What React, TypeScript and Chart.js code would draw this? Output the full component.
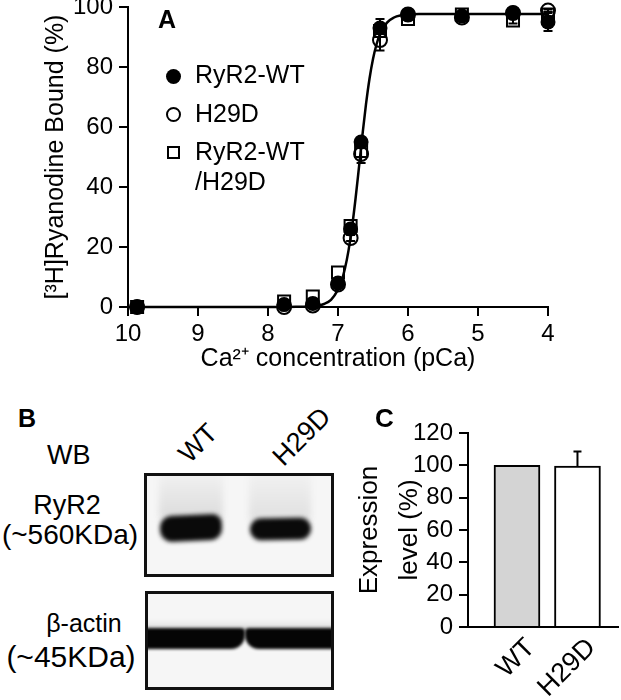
import React, { useEffect, useRef } from 'react';
import { Chart, registerables } from 'chart.js';

Chart.register(...registerables);

const FONT = '"Liberation Sans", Arial, Helvetica, sans-serif';
Chart.defaults.font.family = FONT;
Chart.defaults.color = '#000';

// ---------- Panel A data ----------
const pCa = [9.87, 7.77, 7.36, 7.0, 6.82, 6.67, 6.4, 6.0, 5.23, 4.5, 4.0];
const wtBound = [0, 0.8, 1.2, 8, 26, 55, 93, 97.5, 97, 98, 95];
const wtErr = [0, 0, 0, 0.5, 1, 1.5, 3, 0.5, 0.5, 0.5, 3];
const h29dBound = [0, 0, 0.5, 7.5, 23, 51, 89, 97.5, 96.5, 98, 98.8];
const h29dErr = [0, 0, 0, 0, 1, 3, 3.5, 0.5, 0.5, 0.5, 0.5];
const mixBound = [0, 1.8, 3.5, 11.5, 27, 52, 92, 96, 97.5, 95.5, 97.5];
const mixErr = [0, 0, 0, 0, 0, 0, 0, 0, 0, 1, 1];

// fitted curve
const fitPCa = [10, 8, 7.6, 7.4, 7.3, 7.2, 7.1, 7.0, 6.95, 6.9, 6.85, 6.8, 6.75, 6.7, 6.65, 6.6, 6.55, 6.5, 6.45, 6.4, 6.3, 6.2, 6.1, 6.0, 5.8, 5.5, 4];
const fitBound = [0, 0, 0.1, 0.2, 0.4, 1.0, 2.4, 5.8, 8.6, 12.9, 18.8, 26.5, 36, 46.7, 57.5, 67.6, 76.1, 82.7, 87.5, 91.0, 94.8, 96.5, 97.2, 97.5, 97.65, 97.7, 97.7];

const xTicksA = [10, 9, 8, 7, 6, 5, 4];
const yTicksA = [0, 20, 40, 60, 80, 100];

const legendLabels = ['RyR2-WT', 'H29D', 'RyR2-WT', '/H29D'];

// ---------- Panel C data ----------
const groups = ['WT', 'H29D'];
const expression = [100, 99.5];
const expressionErr = [0, 9];
const barColors = ['#d4d4d4', '#ffffff'];
const yTicksC = [0, 20, 40, 60, 80, 100, 120];

const errorBarPlugin = {
  id: 'errorBars',
  afterDatasetsDraw(chart: any) {
    const ctx = chart.ctx;
    chart.data.datasets.forEach((ds: any, i: number) => {
      if (!ds.errors) return;
      const meta = chart.getDatasetMeta(i);
      const yScale = chart.scales[meta.yAxisID];
      ctx.save();
      ctx.strokeStyle = '#000';
      ctx.lineWidth = ds.errorWidth || 2;
      meta.data.forEach((el: any, j: number) => {
        const err = ds.errors[j];
        if (!err) return;
        const raw = ds.data[j];
        const v = typeof raw === 'object' ? raw.y : raw;
        const x = el.x;
        const yT = yScale.getPixelForValue(v + err);
        const yB = ds.errorUpOnly ? yScale.getPixelForValue(v) : yScale.getPixelForValue(v - err);
        const cap = ds.errorCap || 4;
        ctx.beginPath();
        ctx.moveTo(x, yT);
        ctx.lineTo(x, yB);
        ctx.moveTo(x - cap, yT);
        ctx.lineTo(x + cap, yT);
        if (!ds.errorUpOnly) {
          ctx.moveTo(x - cap, yB);
          ctx.lineTo(x + cap, yB);
        }
        ctx.stroke();
      });
      ctx.restore();
    });
  },
};

function Txt({ x, base, size, bold = false, align = 'left', children }: any) {
  const top = base - 0.8465 * size;
  const style: any = {
    position: 'absolute',
    top,
    fontSize: size,
    lineHeight: `${size}px`,
    fontFamily: FONT,
    fontWeight: bold ? 700 : 400,
    whiteSpace: 'nowrap',
    color: '#000',
  };
  if (align === 'center') {
    style.left = x - 150;
    style.width = 300;
    style.textAlign = 'center';
  } else {
    style.left = x;
  }
  return <div style={style}>{children}</div>;
}

function RotTxt({ x, base, size, children }: any) {
  const asc = 0.8465 * size;
  return (
    <div
      style={{
        position: 'absolute',
        left: x,
        top: base - asc,
        fontSize: size,
        lineHeight: `${size}px`,
        fontFamily: FONT,
        whiteSpace: 'nowrap',
        color: '#000',
        transformOrigin: `0px ${asc}px`,
        transform: 'rotate(-45deg)',
      }}
    >
      {children}
    </div>
  );
}

const abs = (o: any) => ({ position: 'absolute', ...o });

export default function App() {
  const refA = useRef<HTMLCanvasElement>(null);
  const refC = useRef<HTMLCanvasElement>(null);

  useEffect(() => {
    const axisGrid = { drawOnChartArea: false, drawTicks: true, tickLength: 9, color: '#000', lineWidth: 2 };
    const axisBorder = { display: true, color: '#000', width: 2 };
    const chartA = new Chart(refA.current as HTMLCanvasElement, {
      type: 'scatter',
      data: {
        datasets: [
          {
            label: legendLabels[0],
            data: pCa.map((x, i) => ({ x, y: wtBound[i] })),
            errors: wtErr,
            errorCap: 4.5,
            pointStyle: 'circle',
            pointRadius: 7.5,
            pointBackgroundColor: '#000',
            pointBorderColor: '#000',
            pointBorderWidth: 0,
            order: 1,
            clip: false,
          } as any,
          {
            label: legendLabels[1],
            data: pCa.map((x, i) => ({ x, y: h29dBound[i] })),
            errors: h29dErr,
            errorCap: 4.5,
            pointStyle: 'circle',
            pointRadius: 7,
            pointBackgroundColor: 'rgba(0,0,0,0)',
            pointBorderColor: '#000',
            pointBorderWidth: 2,
            order: 2,
            clip: false,
          } as any,
          {
            label: legendLabels[2] + legendLabels[3],
            data: pCa.map((x, i) => ({ x, y: mixBound[i] })),
            errors: mixErr,
            errorCap: 4.5,
            pointStyle: 'rect',
            pointRadius: 8.5,
            pointBackgroundColor: 'rgba(0,0,0,0)',
            pointBorderColor: '#000',
            pointBorderWidth: 2,
            order: 3,
            clip: false,
          } as any,
          {
            type: 'line',
            label: 'fit',
            data: fitPCa.map((x, i) => ({ x, y: fitBound[i] })),
            borderColor: '#000',
            borderWidth: 2.5,
            pointRadius: 0,
            cubicInterpolationMode: 'monotone',
            fill: false,
            order: 4,
            clip: false,
          } as any,
        ],
      },
      options: {
        animation: false,
        responsive: false,
        devicePixelRatio: 1,
        layout: { padding: { top: 27, right: 73, bottom: 0, left: 0 } },
        plugins: { legend: { display: false }, tooltip: { enabled: false } },
        scales: {
          x: {
            type: 'linear',
            min: 4,
            max: 10,
            reverse: true,
            afterBuildTicks: (s: any) => {
              s.ticks = xTicksA.map((v) => ({ value: v }));
            },
            ticks: { font: { size: 24 }, color: '#000', padding: 4, callback: (v: any) => String(v) },
            grid: axisGrid,
            border: axisBorder,
            title: {
              display: true,
              text: 'Ca²⁺ concentration (pCa)',
              font: { size: 25 },
              color: '#000',
              padding: { top: 0, bottom: 5.5 },
            },
            afterFit: (s: any) => {
              s.height = 73;
            },
          },
          y: {
            min: 0,
            max: 100,
            afterBuildTicks: (s: any) => {
              s.ticks = yTicksA.map((v) => ({ value: v }));
            },
            ticks: { font: { size: 24 }, color: '#000', padding: 6 },
            grid: axisGrid,
            border: axisBorder,
            title: {
              display: true,
              text: '[³H]Ryanodine Bound (%)',
              font: { size: 25 },
              color: '#000',
              padding: { top: 41.5, bottom: 0 },
            },
            afterFit: (s: any) => {
              s.width = 128;
            },
          },
        },
      } as any,
      plugins: [errorBarPlugin],
    });

    const chartC = new Chart(refC.current as HTMLCanvasElement, {
      type: 'bar',
      data: {
        datasets: [
          {
            label: 'Expression level',
            data: groups.map((g, i) => ({ x: i + 1, y: expression[i] })),
            backgroundColor: barColors,
            borderColor: '#000',
            borderWidth: 2,
            barThickness: 46,
            errors: expressionErr,
            errorUpOnly: true,
            errorCap: 4,
            clip: false,
          } as any,
        ],
      },
      options: {
        animation: false,
        responsive: false,
        devicePixelRatio: 1,
        layout: { padding: { top: 33, right: 3, bottom: 0, left: 0 } },
        plugins: { legend: { display: false }, tooltip: { enabled: false } },
        scales: {
          x: {
            type: 'linear',
            min: 0.19,
            max: 2.67,
            offset: false,
            grid: { display: false, drawTicks: false },
            border: axisBorder,
            afterBuildTicks: (s: any) => {
              s.ticks = groups.map((g, i) => ({ value: i + 1 }));
            },
            ticks: {
              autoSkip: false,
              minRotation: 45,
              maxRotation: 45,
              labelOffset: 14,
              padding: 5,
              font: { size: 27 },
              color: '#000',
              callback: (v: any) => groups[Math.round(v) - 1] ?? '',
            },
            afterFit: (s: any) => {
              s.height = 73;
            },
          },
          y: {
            min: 0,
            max: 120,
            afterBuildTicks: (s: any) => {
              s.ticks = yTicksC.map((v) => ({ value: v }));
            },
            ticks: { font: { size: 24 }, color: '#000', padding: 6 },
            grid: axisGrid,
            border: axisBorder,
            title: {
              display: true,
              text: ['Expression', 'level (%)'],
              font: { size: 26, lineHeight: 40 / 26 },
              color: '#000',
              padding: { top: 10, bottom: 0 },
            },
            afterFit: (s: any) => {
              s.width = 128;
            },
          },
        },
      } as any,
      plugins: [errorBarPlugin],
    });

    return () => {
      chartA.destroy();
      chartC.destroy();
    };
  }, []);

  const blur = (px: number) => `blur(${px}px)`;

  return (
    <div style={{ position: 'absolute', left: 0, top: 0, width: 621, height: 700, overflow: 'hidden', background: '#fff' }}>
      {/* Panel A */}
      <canvas ref={refA} width={621} height={400} style={abs({ left: 0, top: -20, width: 621, height: 400 })} />
      <Txt x={158} base={28} size={25} bold>A</Txt>
      <div style={abs({ left: 165.5, top: 68.5, width: 15, height: 15, borderRadius: '50%', background: '#000' })} />
      <div style={abs({ left: 165.5, top: 106.5, width: 15, height: 15, borderRadius: '50%', border: '2px solid #000', boxSizing: 'border-box' })} />
      <div style={abs({ left: 166.5, top: 145.5, width: 13, height: 13, border: '2px solid #000', boxSizing: 'border-box' })} />
      <Txt x={195} base={83} size={25}>{legendLabels[0]}</Txt>
      <Txt x={195} base={122} size={25}>{legendLabels[1]}</Txt>
      <Txt x={195} base={160} size={25}>{legendLabels[2]}</Txt>
      <Txt x={195} base={190} size={25}>{legendLabels[3]}</Txt>

      {/* Panel B */}
      <Txt x={18} base={427} size={25} bold>B</Txt>
      <Txt x={47} base={465} size={27}>WB</Txt>
      <RotTxt x={190} base={465} size={27}>WT</RotTxt>
      <RotTxt x={284} base={468} size={27}>H29D</RotTxt>
      <Txt x={67} base={515} size={27} align="center">RyR2</Txt>
      <Txt x={70} base={545} size={28} align="center">(~560KDa)</Txt>
      <Txt x={84} base={632} size={25} align="center">β-actin</Txt>
      <Txt x={71} base={667} size={30} align="center">(~45KDa)</Txt>

      <div style={abs({ left: 144, top: 473, width: 190, height: 104, border: '3px solid #111', boxSizing: 'border-box', background: '#f6f6f6', overflow: 'hidden' })}>
        <div style={abs({ left: 12, top: -6, width: 64, height: 48, background: 'linear-gradient(to bottom, #f3f3f3, #dcdcdc)', filter: blur(3) })} />
        <div style={abs({ left: 102, top: -6, width: 62, height: 50, background: 'linear-gradient(to bottom, #f3f3f3, #e0e0e0)', filter: blur(3) })} />
        <div style={abs({ left: 13, top: 39, width: 62, height: 26, background: '#0a0a0a', borderRadius: '12px 9px 12px 12px', transform: 'rotate(-2.5deg)', filter: blur(2) })} />
        <div style={abs({ left: 103, top: 42, width: 61, height: 22, background: '#0a0a0a', borderRadius: 11, transform: 'rotate(-1deg)', filter: blur(2) })} />
      </div>

      <div style={abs({ left: 145, top: 591, width: 189, height: 99, border: '3px solid #111', boxSizing: 'border-box', background: '#f6f6f6', overflow: 'hidden' })}>
        <div style={abs({ left: -6, top: 26, width: 200, height: 10, background: 'linear-gradient(to bottom, rgba(0,0,0,0), rgba(0,0,0,0.12))', filter: blur(2) })} />
        <div style={abs({ left: -8, top: 34, width: 105, height: 21, background: '#050505', borderRadius: '0 4px 14px 0', filter: blur(1.5) })} />
        <div style={abs({ left: 97, top: 34, width: 100, height: 21, background: '#050505', borderRadius: '4px 0 0 14px', filter: blur(1.5) })} />
      </div>

      {/* Panel C */}
      <canvas ref={refC} width={281} height={300} style={abs({ left: 340, top: 400, width: 281, height: 300 })} />
      <Txt x={375} base={427} size={26} bold>C</Txt>
    </div>
  );
}
